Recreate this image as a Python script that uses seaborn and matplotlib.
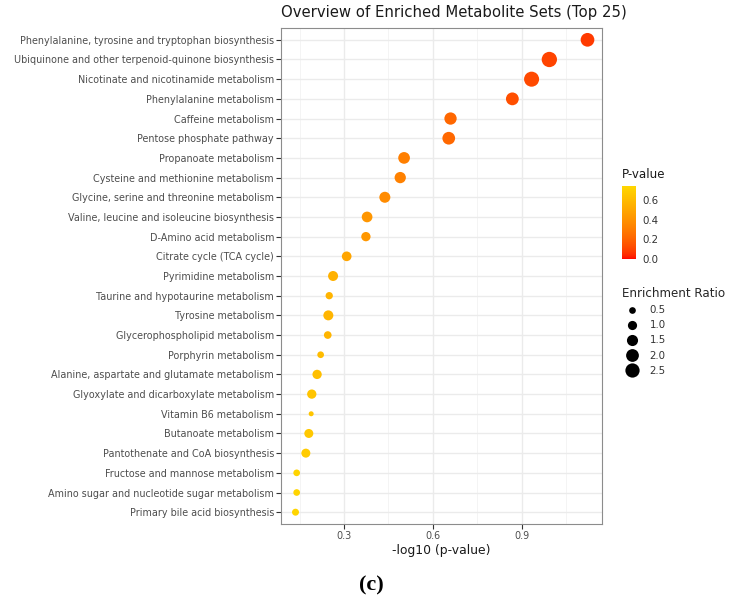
import numpy as np
import pandas as pd
import matplotlib
matplotlib.use('Agg')
import matplotlib.pyplot as plt
import seaborn as sns
from matplotlib.colors import ListedColormap, Normalize
from matplotlib.lines import Line2D

# Daten (von oben nach unten)
pathways = [
    'Phenylalanine, tyrosine and tryptophan biosynthesis',
    'Ubiquinone and other terpenoid-quinone biosynthesis',
    'Nicotinate and nicotinamide metabolism',
    'Phenylalanine metabolism',
    'Caffeine metabolism',
    'Pentose phosphate pathway',
    'Propanoate metabolism',
    'Cysteine and methionine metabolism',
    'Glycine, serine and threonine metabolism',
    'Valine, leucine and isoleucine biosynthesis',
    'D-Amino acid metabolism',
    'Citrate cycle (TCA cycle)',
    'Pyrimidine metabolism',
    'Taurine and hypotaurine metabolism',
    'Tyrosine metabolism',
    'Glycerophospholipid metabolism',
    'Porphyrin metabolism',
    'Alanine, aspartate and glutamate metabolism',
    'Glyoxylate and dicarboxylate metabolism',
    'Vitamin B6 metabolism',
    'Butanoate metabolism',
    'Pantothenate and CoA biosynthesis',
    'Fructose and mannose metabolism',
    'Amino sugar and nucleotide sugar metabolism',
    'Primary bile acid biosynthesis',
]
neg_log_p = [1.123, 0.994, 0.934, 0.869, 0.660, 0.654, 0.503, 0.490, 0.438, 0.378,
             0.374, 0.309, 0.263, 0.250, 0.247, 0.245, 0.221, 0.209, 0.191, 0.189,
             0.181, 0.171, 0.140, 0.140, 0.136]
enrichment_ratio = [2.31, 2.90, 2.80, 2.01, 1.85, 1.98, 1.67, 1.55, 1.47, 1.38,
                    1.03, 1.12, 1.20, 0.61, 1.20, 0.68, 0.50, 1.03, 1.03, 0.25,
                    0.96, 0.96, 0.50, 0.50, 0.55]
size_breaks = [0.5, 1.0, 1.5, 2.0, 2.5]
pval_ticks = [0.0, 0.2, 0.4, 0.6]

df = pd.DataFrame({'pathway': pathways, 'neglogp': neg_log_p, 'ratio': enrichment_ratio})
df['p'] = 10 ** (-df['neglogp'])


# Farbverlauf rot -> gold im Lab-Raum (wie ggplot)
def srgb_to_lab(rgb):
    rgb = np.asarray(rgb, float)
    lin = np.where(rgb <= 0.04045, rgb / 12.92, ((rgb + 0.055) / 1.055) ** 2.4)
    m = np.array([[0.4124, 0.3576, 0.1805], [0.2126, 0.7152, 0.0722], [0.0193, 0.1192, 0.9505]])
    xyz = m @ lin / np.array([0.95047, 1.0, 1.08883])
    f = np.where(xyz > 0.008856, np.cbrt(xyz), 7.787 * xyz + 16 / 116)
    return np.array([116 * f[1] - 16, 500 * (f[0] - f[1]), 200 * (f[1] - f[2])])


def lab_to_srgb(lab):
    L, a, b = lab
    fy = (L + 16) / 116
    fx = fy + a / 500
    fz = fy - b / 200
    f = np.array([fx, fy, fz])
    xyz = np.where(f ** 3 > 0.008856, f ** 3, (f - 16 / 116) / 7.787) * np.array([0.95047, 1.0, 1.08883])
    m = np.array([[3.2406, -1.5372, -0.4986], [-0.9689, 1.8758, 0.0415], [0.0557, -0.2040, 1.0570]])
    lin = np.clip(m @ xyz, 0, 1)
    rgb = np.where(lin <= 0.0031308, 12.92 * lin, 1.055 * lin ** (1 / 2.4) - 0.055)
    return np.clip(rgb, 0, 1)


lab_lo = srgb_to_lab([1.0, 0.0, 0.0])
lab_hi = srgb_to_lab([1.0, 215 / 255, 0.0])
cmap = ListedColormap([lab_to_srgb(lab_lo + t * (lab_hi - lab_lo)) for t in np.linspace(0, 1, 256)])
norm = Normalize(vmin=0.0, vmax=0.74)


# Punktgroesse: Flaeche linear im Verhaeltnis
def ratio_to_s(r):
    return 2.75 + 40.9 * r


sns.set_theme(style='white')
plt.rcParams['font.family'] = ['DejaVu Sans']

fig = plt.figure(figsize=(7.38, 6.04), dpi=100)
ax = fig.add_axes([281 / 738, 1 - 524 / 604, (602 - 281) / 738, (524 - 28) / 604])

sns.scatterplot(data=df, x='neglogp', y='pathway', hue='p', palette=cmap, hue_norm=norm,
                size='ratio', sizes=(ratio_to_s(0), ratio_to_s(3)), size_norm=(0, 3),
                linewidth=0, legend=False, ax=ax, zorder=3)

ax.set_xlim(0.087, 1.172)
ax.set_ylim(len(pathways) - 0.4, -0.6)
ax.set_xticks([0.3, 0.6, 0.9])
ax.set_xticklabels(['0.3', '0.6', '0.9'])
ax.set_xticks([0.15, 0.45, 0.75, 1.05], minor=True)
ax.grid(which='major', color='#EBEBEB', lw=1.0)
ax.grid(which='minor', axis='x', color='#F2F2F2', lw=0.6)
ax.set_axisbelow(True)
ax.tick_params(axis='both', which='major', length=3.5, width=0.8, color='#333333',
               labelsize=6.9, labelcolor='#4D4D4D', pad=1.5, left=True, bottom=True)
ax.tick_params(which='minor', length=0)
for sp in ax.spines.values():
    sp.set_color('#8C8C8C')
    sp.set_linewidth(0.8)
ax.set_ylabel('')
ax.set_xlabel('-log10 (p-value)', fontsize=8.9, color='#1A1A1A', labelpad=2)

fig.text(281 / 738, 1 - 13 / 604, 'Overview of Enriched Metabolite Sets (Top 25)',
         fontsize=10.7, ha='left', va='center', color='#1A1A1A')

# Farblegende
fig.text(621.7 / 738, 1 - 174 / 604, 'P-value', fontsize=8.6, ha='left', va='center', color='#1A1A1A')
cax = fig.add_axes([621.7 / 738, 1 - 259.3 / 604, 14 / 738, 73.3 / 604])
sm = plt.cm.ScalarMappable(norm=norm, cmap=cmap)
cb = fig.colorbar(sm, cax=cax, ticks=pval_ticks)
cb.outline.set_visible(False)
cb.ax.set_yticklabels(['%.1f' % t for t in pval_ticks])
cb.ax.tick_params(length=0, labelsize=7.4, labelcolor='#333333', pad=5)

# Groessenlegende
handles = [Line2D([], [], marker='o', ls='', color='black', markeredgewidth=0,
                  markersize=np.sqrt(ratio_to_s(r))) for r in size_breaks]
fig.legend(handles, ['%.1f' % r for r in size_breaks], title='Enrichment Ratio',
           loc='upper left', bbox_to_anchor=(621.7 / 738, 1 - 287 / 604), frameon=False,
           fontsize=7.4, title_fontsize=8.6, labelspacing=0.5, handletextpad=0.7,
           alignment='left', borderaxespad=0, borderpad=0, labelcolor='#333333')

fig.text(371.7 / 738, 1 - 585 / 604, '(c)', family='Liberation Serif', weight='bold',
         fontsize=16, ha='center', va='center', color='black')

plt.savefig('out.png', dpi=100)
